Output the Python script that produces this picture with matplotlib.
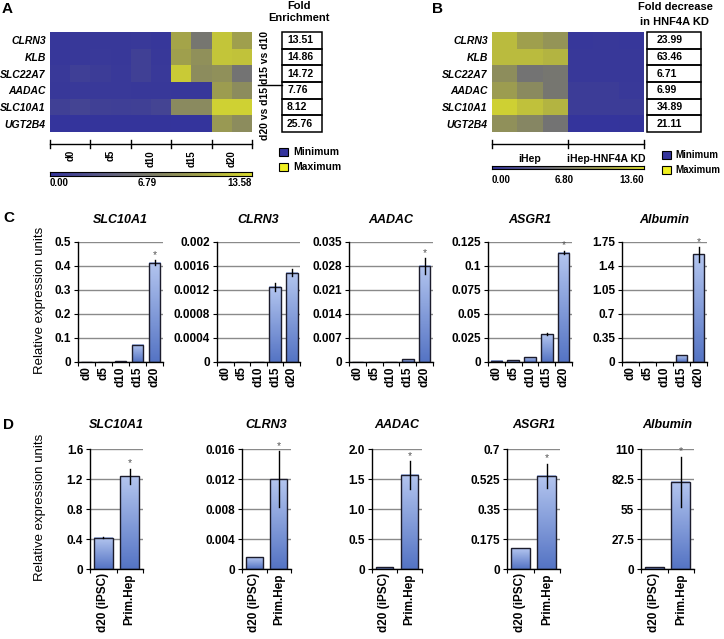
import numpy as np
import matplotlib
matplotlib.use("Agg")
import matplotlib.pyplot as plt
from matplotlib.colors import LinearSegmentedColormap
from matplotlib.patches import Rectangle

plt.rcParams['font.family'] = ['Liberation Sans', 'DejaVu Sans']

# === data ===
heat_genes = ['CLRN3', 'KLB', 'SLC22A7', 'AADAC', 'SLC10A1', 'UGT2B4']

# panel A: expression per replicate column (d0 x2, d5 x2, d10 x2, d15 x2, d20 x2)
heat_a_days = ['d0', 'd5', 'd10', 'd15', 'd20']
heat_a = [
    [0.3, 0.4, 0.4, 0.4, 0.5, 0.3, 10.2, 6.1, 12.2, 9.8],
    [0.3, 0.4, 0.5, 0.4, 1.1, 0.4, 9.8, 8.4, 12.2, 12.0],
    [0.5, 1.0, 0.7, 0.5, 1.1, 0.5, 12.5, 8.1, 8.4, 5.7],
    [0.4, 0.5, 0.5, 0.5, 0.4, 0.4, 0.3, 0.3, 9.5, 8.1],
    [1.1, 1.4, 1.1, 1.0, 1.1, 1.4, 7.9, 7.9, 12.9, 12.9],
    [0.0, 0.0, 0.1, 0.1, 0.1, 0.1, 0.0, 0.0, 9.2, 8.1],
]
heat_a_max = 13.58
fold_enrichment = ['13.51', '14.86', '14.72', '7.76', '8.12', '25.76']

# panel B: iHep x3, iHep-HNF4A KD x3
heat_b_groups = ['iHep', 'iHep-HNF4A KD']
heat_b = [
    [11.6, 9.8, 8.8, 0.3, 0.4, 0.3],
    [11.6, 11.6, 11.2, 0.4, 0.4, 0.4],
    [8.2, 5.7, 6.1, 0.4, 0.4, 0.4],
    [9.5, 7.9, 6.1, 0.7, 0.7, 0.5],
    [12.9, 12.0, 11.2, 0.7, 0.7, 0.7],
    [8.4, 7.5, 5.7, 0.0, 0.0, 0.1],
]
heat_b_max = 13.60
fold_decrease = ['23.99', '63.46', '6.71', '6.99', '34.89', '21.11']

# panel C: time course
c_days = ['d0', 'd5', 'd10', 'd15', 'd20']
c_genes = ['SLC10A1', 'CLRN3', 'AADAC', 'ASGR1', 'Albumin']
c_slc10a1 = [0.0, 0.0, 0.004, 0.072, 0.413]
c_slc10a1_err = [0, 0, 0, 0, 0.01]
c_clrn3 = [0.0, 0.0, 0.0, 0.00125, 0.00149]
c_clrn3_err = [0, 0, 0, 0.00006, 0.00006]
c_aadac = [0.0, 0.0, 0.0, 0.0008, 0.028]
c_aadac_err = [0, 0, 0, 0, 0.0023]
c_asgr1 = [0.0015, 0.002, 0.005, 0.029, 0.114]
c_asgr1_err = [0, 0, 0, 0.001, 0.002]
c_albumin = [0.0, 0.0, 0.0, 0.10, 1.57]
c_albumin_err = [0, 0, 0, 0, 0.11]
c_ticks = [
    ['0', '0.1', '0.2', '0.3', '0.4', '0.5'],
    ['0', '0.0004', '0.0008', '0.0012', '0.0016', '0.002'],
    ['0', '0.007', '0.014', '0.021', '0.028', '0.035'],
    ['0', '0.025', '0.05', '0.075', '0.1', '0.125'],
    ['0', '0.35', '0.7', '1.05', '1.4', '1.75'],
]
c_star = [True, False, True, True, True]

# panel D: d20 iPSC vs primary hepatocytes
d_samples = ['d20 (iPSC)', 'Prim.Hep']
d_slc10a1 = [0.42, 1.24]
d_slc10a1_err = [0.005, 0.1]
d_clrn3 = [0.0016, 0.0120]
d_clrn3_err = [0.00003, 0.0037]
d_aadac = [0.03, 1.57]
d_aadac_err = [0, 0.23]
d_asgr1 = [0.12, 0.545]
d_asgr1_err = [0, 0.07]
d_albumin = [1.5, 80.0]
d_albumin_err = [0, 23.0]
d_ticks = [
    ['0', '0.4', '0.8', '1.2', '1.6'],
    ['0', '0.004', '0.008', '0.012', '0.016'],
    ['0', '0.5', '1.0', '1.5', '2.0'],
    ['0', '0.175', '0.35', '0.525', '0.7'],
    ['0', '27.5', '55', '82.5', '110'],
]

# === figure setup ===
W, H = 724, 639
fig = plt.figure(figsize=(W / 100, H / 100), dpi=100)


def px_axes(x0, y0, x1, y1):
    return fig.add_axes([x0 / W, 1 - y1 / H, (x1 - x0) / W, (y1 - y0) / H])


heat_cmap = LinearSegmentedColormap.from_list(
    'heat', ['#34349c', '#5c5c88', '#7e7e6a', '#a4a44a', '#dadc2e'])
bar_cmap = LinearSegmentedColormap.from_list('bar', ['#5574c4', '#b3c5ef'])

ov = fig.add_axes([0, 0, 1, 1])
ov.set_xlim(0, W)
ov.set_ylim(H, 0)
ov.axis('off')

# panel letters
for letter, x, y in [('A', 2, 9), ('B', 432, 9), ('C', 3, 218), ('D', 3, 425)]:
    ov.text(x, y, letter, fontsize=11, fontweight='bold', va='center', ha='left')


def draw_heat(x0, x1, data, vmax):
    ax = px_axes(x0, 32, x1, 132)
    ax.imshow(np.array(data), cmap=heat_cmap, vmin=0, vmax=vmax,
              aspect='auto', interpolation='nearest')
    ax.set_xticks([])
    ax.set_yticks(range(len(heat_genes)))
    ax.set_yticklabels(heat_genes, fontstyle='italic', fontweight='bold', fontsize=7.5)
    ax.tick_params(axis='y', length=0, pad=3)
    for s in ax.spines.values():
        s.set_visible(False)
    return ax


def draw_cbar(x0, x1, y0, y1, vmax, ylab):
    cax = px_axes(x0, y0, x1, y1)
    cax.imshow(np.linspace(0, vmax, 256)[None, :], cmap=heat_cmap,
               aspect='auto', extent=[0, vmax, 0, 1])
    cax.set_xticks([])
    cax.set_yticks([])
    for s in cax.spines.values():
        s.set_linewidth(0.8)
    ov.text(x0, ylab, f'{0:.2f}', fontsize=7, fontweight='bold', ha='left', va='center')
    ov.text((x0 + x1) / 2 - 4, ylab, f'{vmax / 2:.2f}', fontsize=7, fontweight='bold',
            ha='center', va='center')
    ov.text(x1, ylab, f'{vmax:.2f}', fontsize=7, fontweight='bold', ha='right', va='center')


def draw_table(x0, x1, values, tx):
    rh = 100 / len(values)
    for i, v in enumerate(values):
        ov.add_patch(Rectangle((x0, 32 + i * rh), x1 - x0, rh, fill=False,
                               ec='black', lw=1.1))
        ov.text(tx, 32 + (i + 0.5) * rh, v, fontsize=7.5, fontweight='bold',
                ha='left', va='center')


def draw_legend(x, y0, tx, fs):
    for j, (lab, col) in enumerate([('Minimum', heat_cmap(0.0)), ('Maximum', '#f0f020')]):
        y = y0 + j * 15
        ov.add_patch(Rectangle((x, y - 4), 9, 8, fc=col, ec='black', lw=0.8))
        ov.text(x + tx, y, lab, fontsize=fs, fontweight='bold', va='center')


# --- panel A ---
draw_heat(50, 252, heat_a, heat_a_max)
tl = np.linspace(50, 252, len(heat_a_days) + 1)
ov.plot([50, 252], [144, 144], color='black', lw=1)
for t in tl:
    ov.plot([t, t], [140, 148], color='black', lw=1)
for i, d in enumerate(heat_a_days):
    ov.text((tl[i] + tl[i + 1]) / 2, 150, d, rotation=90, fontsize=7,
            fontweight='bold', ha='center', va='top')
draw_cbar(50, 252, 172, 176, heat_a_max, 183)
draw_table(282, 322, fold_enrichment, 287)
ov.text(299, 6, 'Fold', fontsize=8, fontweight='bold', ha='center', va='center')
ov.text(299, 18, 'Enrichment', fontsize=8, fontweight='bold', ha='center', va='center')
ov.plot([258, 282], [84.5, 84.5], color='black', lw=1)
ov.text(265, 57, 'd15 vs d10', rotation=90, fontsize=7.5, fontweight='bold',
        ha='center', va='center')
ov.text(265, 113, 'd20 vs d15', rotation=90, fontsize=7.5, fontweight='bold',
        ha='center', va='center')
draw_legend(279, 152, 14, 7.5)

# --- panel B ---
draw_heat(492, 644, heat_b, heat_b_max)
tlb = np.linspace(492, 644, len(heat_b_groups) + 1)
ov.plot([492, 644], [144, 144], color='black', lw=1)
for t in tlb:
    ov.plot([t, t], [140, 148], color='black', lw=1)
for i, g in enumerate(heat_b_groups):
    ov.text((tlb[i] + tlb[i + 1]) / 2, 159, g, fontsize=7.5, fontweight='bold',
            ha='center', va='center')
draw_cbar(492, 644, 166, 169.5, heat_b_max, 180)
draw_table(647, 701, fold_decrease, 657)
ov.text(675, 7, 'Fold decrease', fontsize=8, fontweight='bold', ha='center', va='center')
ov.text(675, 22, 'in HNF4A KD', fontsize=8, fontweight='bold', ha='center', va='center')
draw_legend(662, 155, 13, 7)


# --- bar charts ---
def bar_panel(ax, labels, vals, errs, ticks, star, rot_fs):
    n = len(vals)
    w = 0.7
    ymax = float(ticks[-1])
    for i, (v, e) in enumerate(zip(vals, errs)):
        if v > 0:
            ax.imshow(np.linspace(0, 1, 64).reshape(-1, 1), cmap=bar_cmap, origin='lower',
                      extent=[i - w / 2, i + w / 2, 0, v], aspect='auto', zorder=2)
        ax.bar(i, v, width=w, facecolor='none', edgecolor='#1c1c2c', lw=1, zorder=3)
        if e > 0:
            ax.plot([i, i], [v - e, v + e], color='black', lw=1, zorder=4)
    if star:
        i = n - 1
        ax.annotate('*', (i, vals[i] + errs[i]), xytext=(0, 1.5), textcoords='offset points',
                    ha='center', va='baseline', fontsize=7.5, color='#555555', zorder=5,
                    annotation_clip=False)
    ax.set_xlim(-0.5, n - 0.5)
    ax.set_ylim(0, ymax)
    ax.set_yticks([float(t) for t in ticks])
    ax.set_yticklabels(ticks, fontsize=8.5, fontweight='bold')
    ax.set_xticks(range(n))
    ax.set_xticklabels(labels, rotation=90, fontsize=rot_fs, fontweight='bold')
    ax.set_xticks(np.arange(-0.5, n, 1), minor=True)
    ax.tick_params(axis='x', which='major', length=0, pad=3)
    ax.tick_params(axis='x', which='minor', length=3, width=0.8)
    ax.tick_params(axis='y', length=3, width=0.8, pad=2)
    ax.yaxis.grid(True, color='#8a8a8a', lw=1)
    ax.set_axisbelow(True)
    ax.spines['top'].set_visible(False)
    ax.spines['right'].set_visible(False)
    ax.spines['left'].set_linewidth(1)
    ax.spines['bottom'].set_linewidth(1)
    ax.set_facecolor('none')


c_vals = [c_slc10a1, c_clrn3, c_aadac, c_asgr1, c_albumin]
c_errs = [c_slc10a1_err, c_clrn3_err, c_aadac_err, c_asgr1_err, c_albumin_err]
c_x = [(78, 163), (217, 300), (349, 433), (488, 572), (622, 707)]
for k in range(5):
    x0, x1 = c_x[k]
    ax = px_axes(x0, 242, x1, 362)
    bar_panel(ax, c_days, c_vals[k], c_errs[k], c_ticks[k], c_star[k], 8.5)
    ov.text((x0 + x1) / 2, 220, c_genes[k], fontsize=9, fontweight='bold',
            fontstyle='italic', ha='center', va='center')
ov.text(40, 300, 'Relative expression units', rotation=90, fontsize=9.5,
        ha='center', va='center')

d_vals = [d_slc10a1, d_clrn3, d_aadac, d_asgr1, d_albumin]
d_errs = [d_slc10a1_err, d_clrn3_err, d_aadac_err, d_asgr1_err, d_albumin_err]
d_x = [(90, 143), (242, 291), (372, 422), (507, 560), (641, 694)]
for k in range(5):
    x0, x1 = d_x[k]
    ax = px_axes(x0, 449, x1, 569)
    bar_panel(ax, d_samples, d_vals[k], d_errs[k], d_ticks[k], True, 8.5)
    ov.text((x0 + x1) / 2, 425, c_genes[k], fontsize=9, fontweight='bold',
            fontstyle='italic', ha='center', va='center')
ov.text(40, 507, 'Relative expression units', rotation=90, fontsize=9.5,
        ha='center', va='center')

fig.savefig('out.png', dpi=100)
